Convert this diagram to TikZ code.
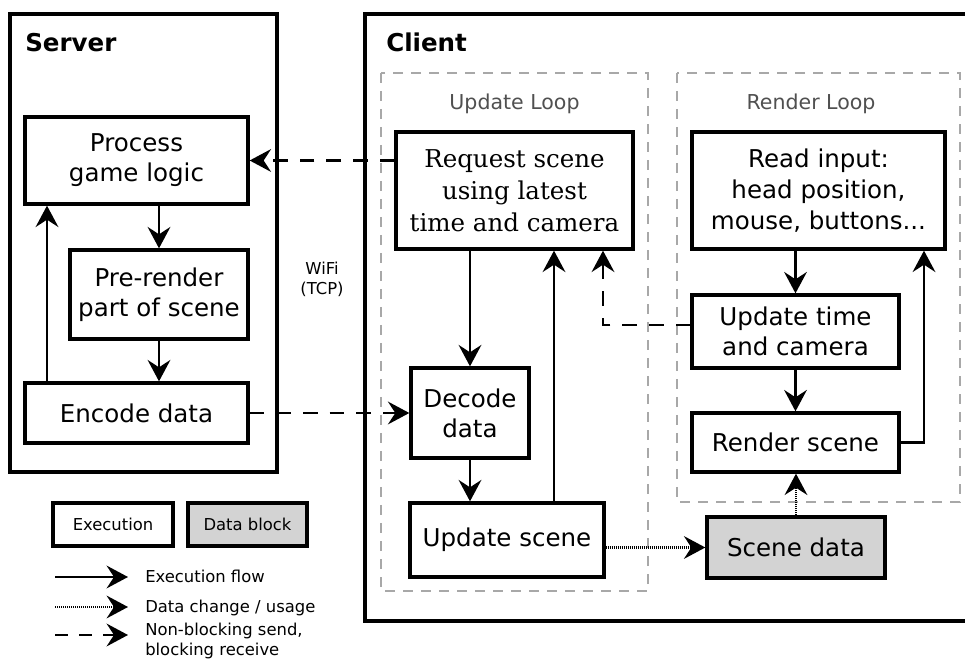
\documentclass[tikz,border=0pt]{standalone}
\usepackage{fontspec}
\setmainfont{DejaVu Sans}
\newfontfamily\seriffam{DejaVu Serif}
\usetikzlibrary{arrows.meta}
\definecolor{loopgray}{HTML}{A8A8A8}
\definecolor{looptext}{HTML}{505050}
\definecolor{datafill}{HTML}{D3D3D3}
\tikzset{
 big/.style={font=\fontsize{18.4}{22.5}\selectfont},
 sz/.style 2 args={minimum width=#1*0.75pt, minimum height=#2*0.75pt},
 box/.style={draw, line width=2.5pt, fill=white, align=center, inner sep=0pt, big},
 databox/.style={box, fill=datafill},
 frame/.style={line width=2.5pt},
 loopbox/.style={draw=loopgray, line width=1.9pt, dash pattern=on 7.5pt off 6pt},
 tip/.style={-{Stealth[length=16pt,width=17pt,inset=5.5pt]}},
 flow/.style={line width=2.1pt, tip},
 nbsend/.style={line width=2.1pt, tip, dash pattern=on 11pt off 9pt},
 datause/.style={line width=2pt, tip, dash pattern=on 0.9pt off 0.6pt},
 small/.style={font=\fontsize{12.3}{14.5}\selectfont, inner sep=0pt},
 looplabel/.style={font=\fontsize{15.4}{18}\selectfont, text=looptext, inner sep=0pt},
 title/.style={font=\fontsize{18.4}{22}\selectfont\bfseries, inner sep=0pt},
}
\begin{document}
\begin{tikzpicture}[x=0.75pt, y=-0.75pt]
\useasboundingbox (0,0) rectangle (965,659);
% frames
\draw[frame] (10,14) rectangle (277,472);
\draw[frame] (966,14) -- (365,14) -- (365,621) -- (966,621);
\draw[loopbox] (381,73) rectangle (648,591);
\draw[loopbox] (677,73) rectangle (960,502);
% titles
\node[title, anchor=base west] (servert) at (25,52) {Server};
\node[title, anchor=base west] (clientt) at (386,52) {Client};
\node[looplabel, anchor=base] (ult) at (514.5,110) {Update Loop};
\node[looplabel, anchor=base] (rlt) at (811,110) {Render Loop};
\node[small, align=center, anchor=north] (wifi) at (322,262) {WiFi\\(TCP)};
% server nodes
\node[box, sz={223}{87}] (process) at (136.5,160.5) {Process\\game logic};
\node[box, sz={178}{89}] (prerender) at (159,294.5) {Pre-render\\part of scene};
\node[box, sz={223}{60}] (encode) at (136.5,413) {Encode data};
% client nodes
\node[box, sz={237}{117}, font={\seriffam\fontsize{18.4}{24}\selectfont}] (request) at (514.5,190.5) {Request scene\\using latest\\time and camera};
\node[box, sz={118}{90}] (decode) at (470,413) {Decode\\data};
\node[box, sz={194}{74}] (updscene) at (507,540) {Update scene};
\node[box, sz={253}{117}, font={\fontsize{18.4}{23.5}\selectfont}] (readin) at (818.5,190.5) {Read input:\\head position,\\mouse, buttons...};
\node[box, sz={207}{73}] (updtime) at (795.5,331.5) {Update time\\and camera};
\node[box, sz={207}{59}] (render) at (795.5,442.5) {Render scene};
\node[databox, sz={178}{61}] (scenedata) at (796,547.5) {Scene data};
% server connectors
\draw[flow] (process.south -| prerender.north) -- (prerender.north);
\draw[flow] (prerender.south) -- (prerender.south |- encode.north);
\coordinate (eu) at (47,0);
\draw[flow] (encode.north -| eu) -- (process.south -| eu);
% network
\draw[nbsend] (process.east -| request.west) -- (process.east);
\draw[nbsend] (encode.east) -- (decode.west);
% update loop
\draw[flow] (request.south -| decode.north) -- (decode.north);
\draw[flow] (decode.south) -- (decode.south |- updscene.north);
\coordinate (uu) at (554,0);
\draw[flow] (updscene.north -| uu) -- (request.south -| uu);
\coordinate (tc) at (603,325);
\draw[nbsend] (updtime.west |- tc) -- (tc) -- (request.south -| tc);
% render loop
\draw[flow] (readin.south -| updtime.north) -- (updtime.north);
\draw[flow] (updtime.south) -- (render.north);
\coordinate (rr) at (924,0);
\draw[flow] (render.east) -- (render.east -| rr) -- (readin.south -| rr);
% data
\draw[datause] (scenedata.west -| updscene.east) -- (scenedata.west);
\draw[datause] (scenedata.north) -- (scenedata.north |- render.south);
% legend
\node[box, sz={120}{43}, font={\fontsize{12.3}{15}\selectfont}] (lexec) at (113,524.5) {Execution};
\node[databox, sz={119}{43}, font={\fontsize{12.3}{15}\selectfont}] (ldata) at (247.5,524.5) {Data block};
\coordinate (la1) at (55,577); \coordinate (lb1) at (128,577);
\coordinate (la2) at (55,607); \coordinate (lb2) at (128,607);
\coordinate (la3) at (55,635); \coordinate (lb3) at (128,635);
\draw[flow] (la1) -- (lb1);
\draw[datause] (la2) -- (lb2);
\draw[nbsend, dash pattern=on 10pt off 8pt] (la3) -- (lb3);
\node[small, anchor=base west] (lt1) at (145,582) {Execution flow};
\node[small, anchor=base west] (lt2) at (145,612) {Data change / usage};
\node[small, anchor=north west, align=left] (lt3) at (145,623) {Non-blocking send,\\blocking receive};
\end{tikzpicture}
\end{document}
